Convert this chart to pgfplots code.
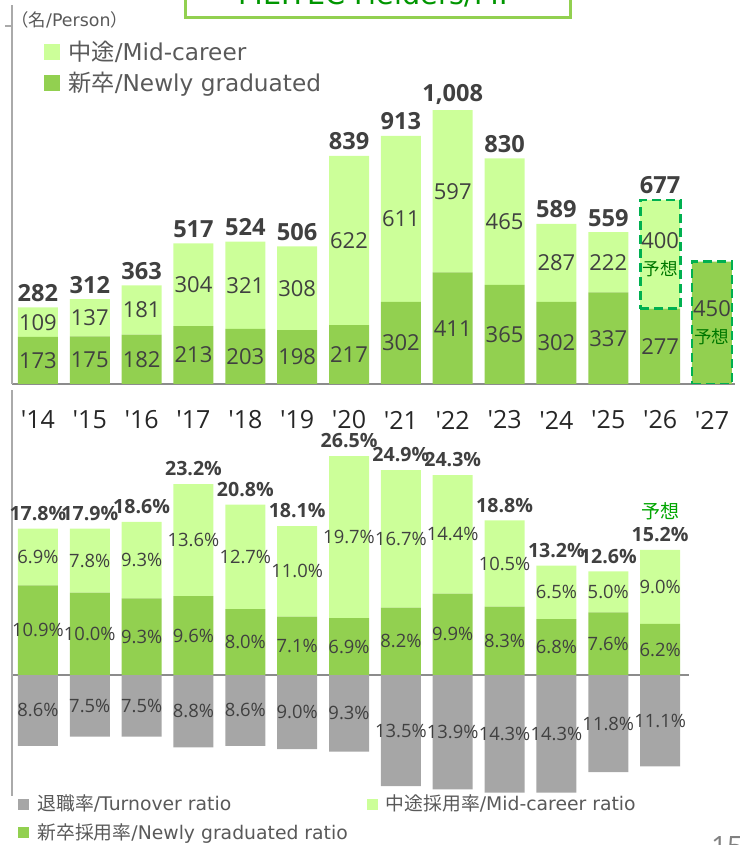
\documentclass[border=0pt]{standalone}
\usepackage{pgfplots}
\pgfplotsset{compat=1.18}
\usepackage{pgfplotstable}
\usepackage{fontspec}
\setmainfont{DejaVu Sans}
\newfontfamily\os{Open Sans}
\newfontfamily\cjk{Noto Sans CJK JP}

\definecolor{lightg}{RGB}{204,255,153}
\definecolor{darkg}{RGB}{146,208,80}
\definecolor{turn}{RGB}{166,166,166}
\definecolor{txt}{RGB}{64,64,64}
\definecolor{legtxt}{RGB}{89,89,89}
\definecolor{ticktxt}{RGB}{38,38,38}
\definecolor{axgray}{RGB}{140,140,140}
\definecolor{axlight}{RGB}{170,170,170}
\definecolor{fcdash}{RGB}{0,176,80}
\definecolor{fcg}{RGB}{0,120,0}
\definecolor{fcg2}{RGB}{0,165,0}
\definecolor{ttl}{RGB}{0,150,0}
\definecolor{ttlbox}{RGB}{146,208,80}

% forecast labels
\protected\def\yosou{{\color{fcg}\cjk\fontsize{8.8}{10}\selectfont 予想}}
\protected\def\fc#1{#1\\\yosou}
\protected\def\fcb#1{{\color{fcg2}\cjk\mdseries\fontsize{9.5}{11}\selectfont 予想}\\#1}

% hires (persons)
\pgfplotstableread{
x new newlab mid midlab tot
0 173 173 109 109 282
1 175 175 137 137 312
2 182 182 181 181 363
3 213 213 304 304 517
4 203 203 321 321 524
5 198 198 308 308 506
6 217 217 622 622 839
7 302 302 611 611 913
8 411 411 597 597 1,008
9 365 365 465 465 830
10 302 302 287 287 589
11 337 337 222 222 559
12 277 277 400 {\fc{400}} 677
13 450 {\fc{450}} 0 {} {}
}\toptab

% forecast outlines
\pgfplotstableread{
x base h
12 277 400
13 0 450
}\fctab

% ratios (%)
\pgfplotstableread{
x new newlab mid midlab tot turn turnlab
0 10.9 10.9\% 6.9 6.9\% 17.8\% -8.6 8.6\%
1 10.0 10.0\% 7.8 7.8\% 17.9\% -7.5 7.5\%
2 9.3 9.3\% 9.3 9.3\% 18.6\% -7.5 7.5\%
3 9.6 9.6\% 13.6 13.6\% 23.2\% -8.8 8.8\%
4 8.0 8.0\% 12.7 12.7\% 20.8\% -8.6 8.6\%
5 7.1 7.1\% 11.0 11.0\% 18.1\% -9.0 9.0\%
6 6.9 6.9\% 19.7 19.7\% 26.5\% -9.3 9.3\%
7 8.2 8.2\% 16.7 16.7\% 24.9\% -13.5 13.5\%
8 9.9 9.9\% 14.4 14.4\% 24.3\% -13.9 13.9\%
9 8.3 8.3\% 10.5 10.5\% 18.8\% -14.3 14.3\%
10 6.8 6.8\% 6.5 6.5\% 13.2\% -14.3 14.3\%
11 7.6 7.6\% 5.0 5.0\% 12.6\% -11.8 11.8\%
12 6.2 6.2\% 9.0 9.0\% {\fcb{15.2\%}} -11.1 11.1\%
}\bottab

\pgfplotsset{
  topframe/.style={at={(6pt,230.5pt)}, anchor=south west,
    x=25.925pt, y=0.1359pt, xmin=-0.5, xmax=13.44, ymin=0, ymax=1394,
    enlargelimits=false},
  botframe/.style={at={(6pt,24.5pt)}, anchor=south west,
    x=25.925pt, y=4.115pt, xmin=-0.5, xmax=12.55, ymin=-14.7, ymax=34.6,
    enlargelimits=false},
  sqleg/.style={legend image code/.code={\fill[##1] (0pt,-#1) rectangle (2*#1,#1);}},
}

\begin{document}
\begin{tikzpicture}
\useasboundingbox (0,0) rectangle (373pt,422.5pt);

% title box, cut by the page edge
\draw[ttlbox, line width=1.5pt, fill=white] (92.5pt,413.5pt) rectangle (285pt,450pt);
\node[anchor=base, text=ttl, font=\fontsize{14.3}{16}\selectfont, inner sep=0pt] at (188.5pt,420pt) {MEITEC Fielders/MF};
\node[anchor=west, text=legtxt, font=\fontsize{8.7}{10}\selectfont, inner sep=0pt] at (5.5pt,412.5pt) {{\cjk （名}/Person{\cjk ）}};
\node[anchor=base, text=gray, font=\os\fontsize{14}{16}\selectfont, inner sep=0pt] at (363.5pt,-5.5pt) {15};

% ---- top: hires ----
\begin{axis}[
  topframe,
  ybar stacked, bar width=20pt,
  axis x line=bottom, axis y line=left,
  x axis line style={-, draw=axgray, line width=0.8pt},
  y axis line style={-, draw=axlight, line width=0.8pt},
  xtick={0,...,13},
  xticklabels={'14,'15,'16,'17,'18,'19,'20,'21,'22,'23,'24,'25,'26,'27},
  xtick style={draw=none},
  x tick label style={font=\os\fontsize{12.5}{14}\selectfont, text=ticktxt, anchor=center, yshift=-14.5pt},
  ytick={1318}, yticklabels={}, ytick style={draw=axlight, line width=0.8pt},
  tick align=outside, major tick length=3.5pt,
  reverse legend,
  legend style={at={(0.0443,0.911)}, anchor=north west, draw=none, fill=none,
    font=\fontsize{11.6}{13.5}\selectfont, text=legtxt, row sep=2pt, inner sep=0pt,
    nodes={inner sep=1pt}, cells={anchor=west},
    /tikz/every odd column/.append style={column sep=3pt}},
]
\addplot[fill=darkg, draw=none, sqleg=4pt] table[x=x, y=new]{\toptab};
\addlegendentry{{\cjk 新卒}/Newly graduated}
\addplot[fill=lightg, draw=none, sqleg=4pt] table[x=x, y=mid]{\toptab};
\addlegendentry{{\cjk 中途}/Mid-career}
\end{axis}

% forecast outlines
\begin{axis}[topframe, hide axis, ybar stacked, bar width=20pt]
\addplot[draw=none, fill=none] table[x=x, y=base]{\fctab};
\addplot[draw=fcdash, fill=none, line width=1.4pt, dash pattern=on 4.5pt off 2.5pt]
  table[x=x, y=h]{\fctab};
\end{axis}

% value labels
\begin{axis}[topframe, hide axis,
  nodes near coords, point meta=explicit symbolic,
  every node near coord/.append style={font=\os\fontsize{11}{13.5}\selectfont, text=txt, align=center, anchor=center}]
\addplot[draw=none] table[x=x, y expr=\thisrow{new}/2, meta=newlab]{\toptab};
\addplot[draw=none] table[x=x, y expr=\thisrow{new}+\thisrow{mid}/2, meta=midlab]{\toptab};
\addplot[draw=none, every node near coord/.append style={anchor=south, inner sep=2.7pt,
    font=\os\bfseries\fontsize{11.8}{13}\selectfont}]
  table[x=x, y expr=\thisrow{new}+\thisrow{mid}, meta=tot]{\toptab};
\end{axis}

% ---- bottom: ratios ----
\begin{axis}[
  botframe,
  ybar stacked, bar width=20pt,
  axis x line=middle, axis y line=left,
  x axis line style={-, draw=axgray, line width=0.8pt},
  y axis line style={-, draw=axlight, line width=0.8pt},
  xtick=\empty, ytick=\empty,
]
\addplot[fill=darkg, draw=none] table[x=x, y=new]{\bottab};
\addplot[fill=lightg, draw=none] table[x=x, y=mid]{\bottab};
\end{axis}

\begin{axis}[
  botframe, hide axis,
  ybar, bar width=20pt,
  legend columns=2,
  legend style={at={(0.0089,0.006)}, anchor=north west, draw=none, fill=none,
    font=\fontsize{9.4}{11}\selectfont, text=legtxt, row sep=3.8pt, inner sep=0pt,
    nodes={inner sep=0.5pt}, cells={anchor=west},
    /tikz/every odd column/.append style={column sep=3.5pt},
    /tikz/every even column/.append style={column sep=9pt}},
]
\addplot[fill=turn, draw=none, bar shift=0pt, sqleg=2.75pt] table[x=x, y=turn]{\bottab};
\addlegendentry{{\cjk 退職率}/Turnover ratio}
\addlegendimage{fill=lightg, draw=none, sqleg=2.75pt}
\addlegendentry{{\cjk 中途採用率}/Mid-career ratio}
\addlegendimage{fill=darkg, draw=none, sqleg=2.75pt}
\addlegendentry{{\cjk 新卒採用率}/Newly graduated ratio}
\end{axis}

% ratio labels
\begin{axis}[botframe, hide axis,
  nodes near coords, point meta=explicit symbolic,
  every node near coord/.append style={font=\os\fontsize{9.2}{10.5}\selectfont, text=txt, align=center, anchor=center}]
\addplot[draw=none] table[x=x, y expr=\thisrow{new}/2, meta=newlab]{\bottab};
\addplot[draw=none] table[x=x, y expr=\thisrow{new}+\thisrow{mid}/2, meta=midlab]{\bottab};
\addplot[draw=none] table[x=x, y expr=\thisrow{turn}/2, meta=turnlab]{\bottab};
\addplot[draw=none, every node near coord/.append style={anchor=south, inner sep=3.8pt,
    font=\os\bfseries\fontsize{9.8}{11.5}\selectfont}]
  table[x=x, y expr=\thisrow{new}+\thisrow{mid}, meta=tot]{\bottab};
\end{axis}
\end{tikzpicture}
\end{document}
